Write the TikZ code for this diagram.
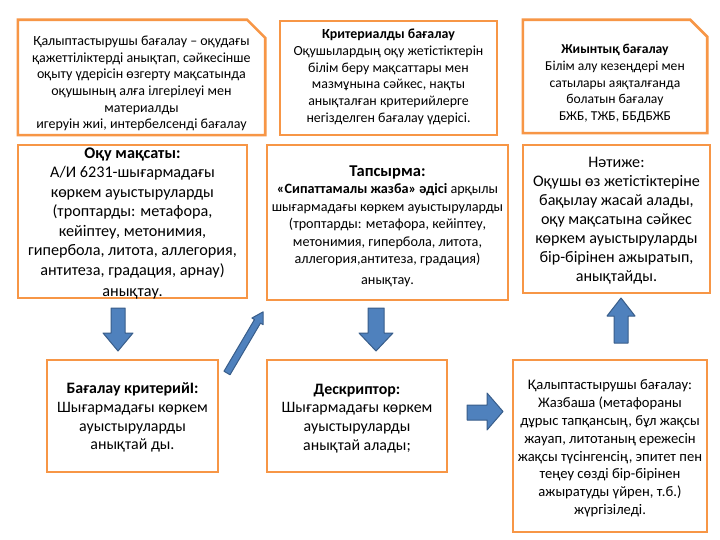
\documentclass[tikz,border=0pt]{standalone}
\usepackage{fontspec}
\setmainfont{Carlito}
\definecolor{boxorange}{HTML}{F79646}
\definecolor{arrowfill}{HTML}{4F81BD}
\definecolor{arrowline}{HTML}{385D8A}
\tikzset{
  boxframe/.style={draw=boxorange, line width=2.6pt, fill=white, inner sep=0pt, rectangle},
  boxspace/.style={draw=none, inner sep=0pt, rectangle},
  boxline/.style={draw=boxorange, line width=2.6pt, fill=white, line join=miter},
  boxtext/.style={align=center, inner sep=0pt, text=black},
  blockarrow/.style={fill=arrowfill, draw=arrowline, line width=1pt, line join=round},
}
\begin{document}
\begin{tikzpicture}[x=1pt,y=-1pt]
\path[use as bounding box, fill=white] (0,0) rectangle (720,540);

% top row
\node[boxspace, minimum width=247pt, minimum height=115pt] (tlbox) at (141.5,77.5) {};
\draw[boxline] (tlbox.south west) -- (tlbox.north west) -- ([xshift=-18pt]tlbox.north east) -- ([yshift=-18pt]tlbox.north east) -- (tlbox.south east) -- cycle;
\node[boxtext, font=\fontsize{14}{16.6}\selectfont] (tltext) at (141.5,83.5) {Қалыптастырушы бағалау – оқудағы\\қажеттіліктерді анықтап, сәйкесінше\\оқыту үдерісін өзгерту мақсатында\\оқушының алға ілгерілеуі мен\\материалды\\игеруін жиі, интербелсенді бағалау};

\node[boxframe, minimum width=217pt, minimum height=114pt] (tmbox) at (388.5,78) {};
\node[boxtext, font=\fontsize{13.9}{16.7}\selectfont] (tmtext) at (388.5,77) {\textbf{Критериалды бағалау}\\Оқушылардың оқу жетістіктерін\\білім беру мақсаттары мен\\мазмұнына сәйкес, нақты\\анықталған критерийлерге\\негізделген бағалау үдерісі.};

\node[boxspace, minimum width=184pt, minimum height=113pt] (trbox) at (615,76.5) {};
\draw[boxline] (trbox.south west) -- (trbox.north west) -- ([xshift=-17pt]trbox.north east) -- ([yshift=-17pt]trbox.north east) -- (trbox.south east) -- cycle;
\node[boxtext, font=\fontsize{13.6}{16.7}\selectfont] (trtext) at (615,83.5) {\textbf{Жиынтық бағалау}\\Білім алу кезеңдері мен\\сатылары аяқталғанда\\болатын бағалау\\БЖБ, ТЖБ, ББДБЖБ};

% middle row
\node[boxframe, minimum width=229pt, minimum height=153pt] (m1box) at (132.5,221.5) {};
\node[boxtext, font=\fontsize{16.2}{19.5}\selectfont] (m1text) at (132.5,223.5) {\textbf{Оқу мақсаты:}\\А/И 6231-шығармадағы\\көркем ауыстыруларды\\(троптарды: метафора,\\кейіптеу, метонимия,\\гипербола, литота, аллегория,\\антитеза, градация, арнау)\\[2pt]анықтау.};

\node[boxframe, minimum width=241pt, minimum height=155pt] (m2box) at (387.5,222.5) {};
\node[boxtext, font=\fontsize{14.2}{17.5}\selectfont] (m2text) at (387.5,226) {{\fontsize{16.5}{18}\selectfont\bfseries Тапсырма:}\\[0pt]\textbf{«Сипаттамалы жазба» әдісі} арқылы\\шығармадағы көркем ауыстыруларды\\(троптарды: метафора, кейіптеу,\\метонимия, гипербола, литота,\\аллегория,антитеза, градация)\\[3pt]анықтау.};

\node[boxframe, minimum width=187pt, minimum height=148pt] (m3box) at (616.5,219) {};
\node[boxtext, font=\fontsize{16.1}{19}\selectfont] (m3text) at (616.5,221) {Нәтиже:\\Оқушы өз жетістіктеріне\\бақылау жасай алады,\\оқу мақсатына сәйкес\\көркем ауыстыруларды\\бір-бірінен ажыратып,\\анықтайды.};

% bottom row
\node[boxframe, minimum width=171pt, minimum height=112pt] (b1box) at (132.5,416) {};
\node[boxtext, font=\fontsize{15.9}{18.8}\selectfont] (b1text) at (132.5,417.5) {\textbf{Бағалау критерийІ:}\\Шығармадағы көркем\\ауыстыруларды\\анықтай ды.};

\node[boxframe, minimum width=180pt, minimum height=112pt] (b2box) at (357,416) {};
\node[boxtext, font=\fontsize{15.9}{18.8}\selectfont] (b2text) at (357,418.5) {\textbf{Дескриптор:}\\Шығармадағы көркем\\ауыстыруларды\\анықтай алады;};

\node[boxframe, minimum width=194pt, minimum height=172pt] (b3box) at (610,446) {};
\node[boxtext, font=\fontsize{14.6}{17.8}\selectfont] (b3text) at (610,448.5) {Қалыптастырушы бағалау:\\Жазбаша (метафораны\\дұрыс тапқансың, бұл жақсы\\жауап, литотаның ережесін\\жақсы түсінгенсің, эпитет пен\\теңеу сөзді бір-бірінен\\ажыратуды үйрен, т.б.)\\жүргізіледі.};

% block arrows
\draw[blockarrow] (111,308) -- (125,308) -- (125,333) -- (133,333) -- (118,351) -- (103,333) -- (111,333) -- cycle;
\draw[blockarrow] (368,308) -- (384,308) -- (384,333) -- (393,333) -- (376,351) -- (359,333) -- (368,333) -- cycle;
\draw[blockarrow] (614,343) -- (628,343) -- (628,316) -- (635,316) -- (621,298) -- (607,316) -- (614,316) -- cycle;
\draw[blockarrow] (467,405) -- (487,405) -- (487,393) -- (503,411.5) -- (487,430) -- (487,420) -- (467,420) -- cycle;
\begin{scope}[shift={(227,373)}, rotate=59.45]
\draw[blockarrow] (0,-3.5) -- (60,-3.5) -- (60,-6.5) -- (71,0) -- (60,6.5) -- (60,3.5) -- (0,3.5) -- cycle;
\end{scope}
\end{tikzpicture}
\end{document}
